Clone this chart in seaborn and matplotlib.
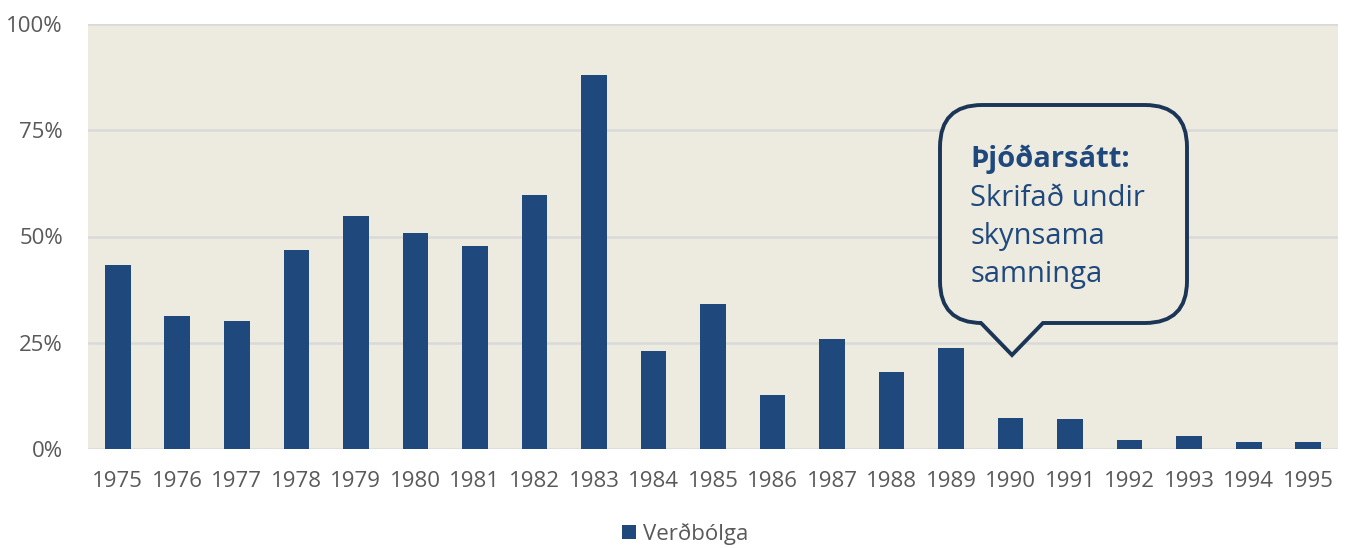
import matplotlib
matplotlib.use('Agg')
import matplotlib.pyplot as plt
import seaborn as sns
import pandas as pd
from matplotlib.path import Path
from matplotlib.patches import PathPatch
from matplotlib.transforms import IdentityTransform
from matplotlib.ticker import FuncFormatter

# Données : verðbólga (%) par année
years = [str(y) for y in range(1975, 1996)]
inflation = [43.3, 31.3, 30.2, 46.8, 54.8, 50.9, 47.7, 59.8, 87.9, 23.0,
             34.1, 12.6, 26.0, 18.1, 23.7, 7.2, 7.0, 2.2, 3.0, 1.6, 1.6]
series_name = 'Verðbólga'
callout_title = 'Þjóðarsátt:'
callout_lines = ['Skrifað undir', 'skynsama', 'samninga']

df = pd.DataFrame({'Ár': years, series_name: inflation})

bar_color = '#1F497D'
bg_color = '#EDEAE0'
grid_color = '#D9D9D9'
text_color = '#595959'
box_edge = '#1B3556'

sns.set_theme(style='white')
plt.rcParams['font.family'] = ['Open Sans', 'DejaVu Sans']

W, H = 1348, 548
fig = plt.figure(figsize=(W / 100, H / 100), dpi=100)
ax = fig.add_axes([88 / W, (H - 449) / H, 1250 / W, 425 / H])
ax.set_facecolor(bg_color)

sns.barplot(data=df, x='Ár', y=series_name, color=bar_color, width=0.43,
            saturation=1, linewidth=0, label=series_name, ax=ax, zorder=3)

ax.set_ylim(0, 100)
ax.set_yticks([0, 25, 50, 75, 100])
ax.yaxis.set_major_formatter(FuncFormatter(lambda v, p: f'{v:.0f}%'))
ax.grid(axis='y', color=grid_color, linewidth=1.8, zorder=0)
ax.set_axisbelow(True)
for s in ax.spines.values():
    s.set_visible(False)
ax.set_xlabel('')
ax.set_ylabel('')
ax.tick_params(axis='both', length=0, labelsize=16, colors=text_color)
ax.tick_params(axis='y', pad=18)
ax.tick_params(axis='x', pad=16)

leg = ax.legend(loc='center', bbox_to_anchor=(0.478, -0.2), frameon=False,
                fontsize=16, handlelength=0.6, handleheight=0.6,
                handletextpad=0.35, labelcolor=text_color)

# Bulle de texte (coordonnées en pixels, origine en bas)
L, R, T, B, r = 940, 1187, H - 105, H - 323, 42
tl, tr, tip = 981, 1043, (1012, H - 355)
verts = [(L + r, T), (R - r, T), (R, T), (R, T - r), (R, B + r), (R, B),
         (R - r, B), (tr, B), tip, (tl, B), (L + r, B), (L, B), (L, B + r),
         (L, T - r), (L, T), (L + r, T), (L + r, T)]
codes = [Path.MOVETO, Path.LINETO, Path.CURVE3, Path.CURVE3, Path.LINETO,
         Path.CURVE3, Path.CURVE3, Path.LINETO, Path.LINETO, Path.LINETO,
         Path.LINETO, Path.CURVE3, Path.CURVE3, Path.LINETO, Path.CURVE3,
         Path.CURVE3, Path.CLOSEPOLY]
bubble = PathPatch(Path(verts, codes), facecolor=bg_color, edgecolor=box_edge,
                   linewidth=2.8, transform=IdentityTransform(), zorder=5,
                   joinstyle='miter')
fig.patches.append(bubble)

fig.text(970 / W, (H - 167) / H, callout_title, fontsize=21, fontweight='bold',
         color=bar_color, va='baseline', ha='left', zorder=6)
for i, line in enumerate(callout_lines):
    fig.text(970 / W, (H - 206 - 38 * i) / H, line, fontsize=21,
             color=bar_color, va='baseline', ha='left', zorder=6)

plt.savefig('out.png', dpi=100)
